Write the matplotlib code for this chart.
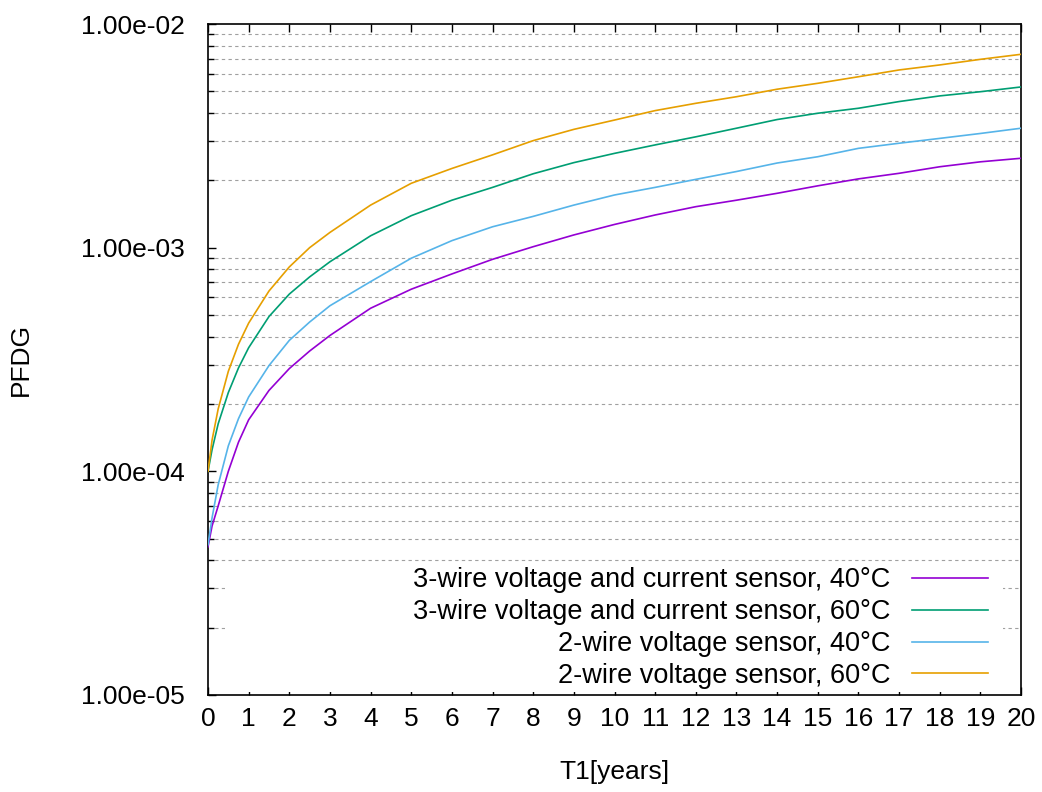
import matplotlib
matplotlib.use("Agg")
import matplotlib.pyplot as plt
from matplotlib.ticker import FixedLocator, FuncFormatter, LogLocator, NullFormatter
from matplotlib.patches import Rectangle

plt.rcParams["font.family"] = ["Liberation Sans", "DejaVu Sans"]

# T1 in years
t_years = [0, 0.1, 0.25, 0.5, 0.75, 1, 1.5, 2, 2.5, 3, 4, 5, 6, 7, 8, 9, 10,
           11, 12, 13, 14, 15, 16, 17, 18, 19, 20]

# PFDG
pfd_3w_40 = [4.6e-5, 5.7e-5, 7.0e-5, 1.0e-4, 1.35e-4, 1.7e-4, 2.3e-4, 2.88e-4,
             3.45e-4, 4.05e-4, 5.36e-4, 6.52e-4, 7.63e-4, 8.87e-4, 1.01e-3,
             1.14e-3, 1.27e-3, 1.40e-3, 1.525e-3, 1.63e-3, 1.75e-3, 1.89e-3,
             2.03e-3, 2.15e-3, 2.30e-3, 2.42e-3, 2.51e-3]
pfd_3w_60 = [1.0e-4, 1.25e-4, 1.63e-4, 2.25e-4, 2.9e-4, 3.57e-4, 4.92e-4, 6.2e-4,
             7.4e-4, 8.65e-4, 1.13e-3, 1.39e-3, 1.63e-3, 1.86e-3, 2.14e-3,
             2.40e-3, 2.64e-3, 2.88e-3, 3.13e-3, 3.42e-3, 3.74e-3, 3.99e-3,
             4.20e-3, 4.50e-3, 4.77e-3, 4.98e-3, 5.23e-3]
pfd_2w_40 = [4.7e-5, 6.2e-5, 8.7e-5, 1.3e-4, 1.72e-4, 2.15e-4, 2.97e-4, 3.85e-4,
             4.65e-4, 5.5e-4, 7.05e-4, 8.97e-4, 1.075e-3, 1.24e-3, 1.38e-3,
             1.55e-3, 1.72e-3, 1.86e-3, 2.02e-3, 2.19e-3, 2.39e-3, 2.55e-3,
             2.78e-3, 2.93e-3, 3.08e-3, 3.24e-3, 3.42e-3]
pfd_2w_60 = [1.0e-4, 1.38e-4, 1.9e-4, 2.8e-4, 3.7e-4, 4.6e-4, 6.4e-4, 8.2e-4,
             1.0e-3, 1.17e-3, 1.55e-3, 1.94e-3, 2.26e-3, 2.60e-3, 3.01e-3,
             3.38e-3, 3.72e-3, 4.10e-3, 4.42e-3, 4.73e-3, 5.11e-3, 5.43e-3,
             5.81e-3, 6.23e-3, 6.56e-3, 6.95e-3, 7.32e-3]

labels = ["3-wire voltage and current sensor, 40°C",
          "3-wire voltage and current sensor, 60°C",
          "2-wire voltage sensor, 40°C",
          "2-wire voltage sensor, 60°C"]
colors = ["#9400d3", "#009e73", "#56b4e9", "#e69f00"]
series = [pfd_3w_40, pfd_3w_60, pfd_2w_40, pfd_2w_60]

fig = plt.figure(figsize=(10.42, 7.92), dpi=100)
ax = fig.add_axes([208 / 1042, 97 / 792, 813 / 1042, 671 / 792])

for ys, c, lab in zip(series, colors, labels):
    ax.plot(t_years, ys, color=c, lw=1.2, label=lab, zorder=3)

ax.set_yscale("log")
ax.set_ylim(1e-5, 1e-2)
ax.set_xlim(0, 20)

ax.xaxis.set_major_locator(FixedLocator(range(0, 21)))
ax.yaxis.set_major_locator(FixedLocator([1e-5, 1e-4, 1e-3, 1e-2]))
ax.yaxis.set_minor_locator(LogLocator(base=10, subs=range(2, 10)))
ax.yaxis.set_major_formatter(FuncFormatter(lambda v, p: f"{v:.2e}"))
ax.yaxis.set_minor_formatter(NullFormatter())

ax.tick_params(axis="both", which="both", direction="in", labelsize=19, width=1.0)
ax.tick_params(axis="x", which="major", length=6, pad=9, top=True, bottom=True)
ax.tick_params(axis="y", which="major", length=6, pad=17, left=True, right=False)
ax.tick_params(axis="y", which="minor", length=4, left=True, right=False)

ax.grid(False)
ax.yaxis.grid(True, which="minor", color="#a0a0a0", lw=0.8, linestyle=(0, (3, 3)))
ax.set_axisbelow(True)

for s in ax.spines.values():
    s.set_linewidth(1.2)

# opaque key box like gnuplot
ax.add_patch(Rectangle((0.021, 0.004), 0.957, 0.185, transform=ax.transAxes,
                       facecolor="white", edgecolor="none", zorder=1.5))

ax.legend(loc="lower right", bbox_to_anchor=(0.9594, 0.009), frameon=False,
          markerfirst=False, fontsize=19.5, handlelength=2.8, handletextpad=0.8,
          borderpad=0, borderaxespad=0, labelspacing=0.22)

ax.set_ylabel("PFDG", fontsize=19)
ax.yaxis.set_label_coords(-0.215, 0.5)
ax.set_xlabel("T1[years]", fontsize=19)
ax.xaxis.set_label_coords(0.5, -0.097)

fig.savefig("out.png", dpi=100)
